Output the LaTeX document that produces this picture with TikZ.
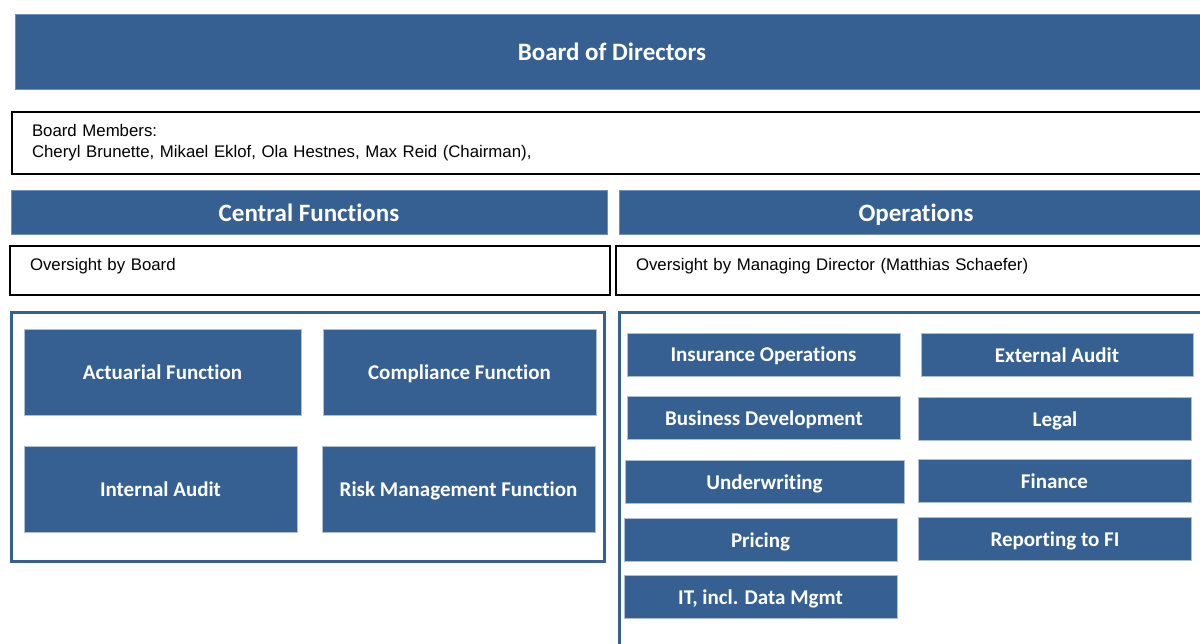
\documentclass[tikz,border=0pt]{standalone}
\usepackage{fontspec}
\setmainfont{Liberation Sans}
\newfontfamily\boxfont[Ligatures = NoCommon]{Carlito}
\usetikzlibrary{positioning}
\definecolor{boardblue}{RGB}{54,96,146}
\tikzstyle{headbar} = [rectangle, minimum height = 44pt, text centered, text height = 19pt, text depth = 0pt, draw = boardblue!70!white, fill = boardblue, text = white, font = \boxfont\bfseries\fontsize{25}{30}\selectfont]
\tikzstyle{unitbox} = [rectangle, minimum width = 273pt, minimum height = 43pt, text centered, text height = 15pt, text depth = 0pt, draw = boardblue!40!white, fill = boardblue, text = white, font = \boxfont\bfseries\fontsize{21}{25}\selectfont]
\tikzstyle{notebox} = [rectangle, minimum width = 600pt, minimum height = 49pt, inner xsep = 20pt, text width = 560pt, align = left, draw = black, line width = 1.5pt, font = \fontsize{16.8}{21}\selectfont]
\tikzstyle{framebox} = [draw = boardblue, line width = 3pt]

\begin{document}
\begin{tikzpicture}[x = 1pt, y = -1pt, node distance = 60pt]
	\useasboundingbox (0,0) rectangle (1200,644);
	
	\node[headbar, minimum width = 1194pt, minimum height = 75pt](board) at (612,51.5){Board of Directors};
	\node[notebox, minimum width = 1200pt, minimum height = 62pt, text width = 1160pt](members) at (612,143){Board Members:\\Cheryl Brunette, Mikael Eklof, Ola Hestnes, Max Reid (Chairman),};
	
	\node[headbar, minimum width = 596pt](central) at (309,212){Central Functions};
	\node[headbar, minimum width = 594pt](operations) at (916,212){Operations};
	\node[notebox, text height = 12.2pt, text depth = 13pt](central note) at (310,270.5){Oversight by Board};
	\node[notebox, text height = 12.2pt, text depth = 13pt](operations note) at (916,270.5){Oversight by Managing Director (Matthias Schaefer)};
	
	\draw[framebox] (11.5,312.5) rectangle (604,561);
	\draw[framebox] (619.5,312.5) rectangle (1215,660);
	
	\node[unitbox, minimum width = 277pt, minimum height = 86pt](actuarial) at (162.5,372.5){Actuarial Function};
	\node[unitbox, minimum height = 86pt, right of = actuarial, xshift = 237pt](compliance){Compliance Function};
	\node[unitbox, minimum height = 86pt, below of = actuarial, yshift = -56.5pt, xshift = -2pt](internal){Internal Audit};
	\node[unitbox, minimum height = 86pt, right of = internal, xshift = 238pt](risk){Risk Management Function};
	
	\node[unitbox](insurance) at (763.5,354.5){Insurance Operations};
	\node[unitbox, below of = insurance, yshift = -3pt, xshift = 0.5pt](business){Business Development};
	\node[unitbox, minimum width = 279pt, below of = business, yshift = -4pt, xshift = 0.5pt](underwriting){Underwriting};
	\node[unitbox, below of = underwriting, yshift = 2pt, xshift = -4pt](pricing){Pricing};
	\node[unitbox, below of = pricing, yshift = 3pt](it){IT, incl. Data Mgmt};
	
	\node[unitbox, minimum width = 272pt](external) at (1057,355){External Audit};
	\node[unitbox, below of = external, yshift = -3.5pt, xshift = -2pt](legal){Legal};
	\node[unitbox, below of = legal, yshift = -2.5pt, xshift = -0.5pt](finance){Finance};
	\node[unitbox, below of = finance, yshift = 2.5pt, xshift = 0.5pt](reporting){Reporting to FI};
	
\end{tikzpicture}
\end{document}
